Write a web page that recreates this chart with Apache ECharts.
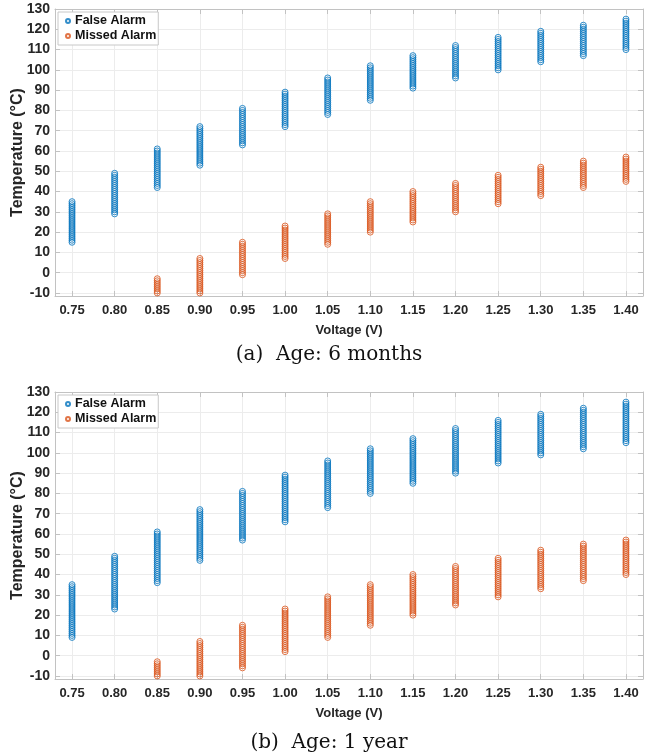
<!DOCTYPE html>
<html>
<head>
<meta charset="utf-8">
<script src="https://cdn.jsdelivr.net/npm/echarts@6/dist/echarts.min.js"></script>
<style>
  html, body { margin: 0; padding: 0; background: #fff; }
  #chart { width: 658px; height: 756px; }
</style>
</head>
<body>
<div id="chart"></div>
<script>
// voltage sweep (V) and tick labels
var voltages = [0.75, 0.80, 0.85, 0.90, 0.95, 1.00, 1.05, 1.10, 1.15, 1.20, 1.25, 1.30, 1.35, 1.40];
var xTickLabels = ['0.75', '0.80', '0.85', '0.90', '0.95', '1.00', '1.05', '1.10', '1.15', '1.20', '1.25', '1.30', '1.35', '1.40'];
var yTickLabels = ['-10', '0', '10', '20', '30', '40', '50', '60', '70', '80', '90', '100', '110', '120', '130'];

// temperature ranges (degC) flagged at each voltage, 1 degC steps
// (a) age 6 months
var falseLow6m   = [15, 29, 42, 53, 63, 72, 78, 85, 91, 96, 100, 104, 107, 110];
var falseHigh6m  = [35, 49, 61, 72, 81, 89, 96, 102, 107, 112, 116, 119, 122, 125];
var missedLow6m  = [null, null, -10, -10, -1, 7, 14, 20, 25, 30, 34, 38, 42, 45];
var missedHigh6m = [null, null, -3, 7, 15, 23, 29, 35, 40, 44, 48, 52, 55, 57];
// (b) age 1 year
var falseLow1y   = [9, 23, 36, 47, 57, 66, 73, 80, 85, 90, 95, 99, 102, 105];
var falseHigh1y  = [35, 49, 61, 72, 81, 89, 96, 102, 107, 112, 116, 119, 122, 125];
var missedLow1y  = [null, null, -10, -10, -6, 2, 9, 15, 20, 25, 29, 33, 37, 40];
var missedHigh1y = [null, null, -3, 7, 15, 23, 29, 35, 40, 44, 48, 52, 55, 57];

var blue = '#0072BD';
var orange = '#D95319';
var axisGray = '#c2c2c2';
var textColor = '#262626';

function points(lows, highs) {
    var pts = [];
    voltages.forEach(function(v, i) {
        if (lows[i] == null) return;
        for (var t = lows[i]; t <= highs[i]; t++) {
            pts.push([v, t]);
        }
    });
    return pts;
}

var xTicks = xTickLabels.map(Number);
var yTicks = yTickLabels.map(Number);

var grids = [
    { left: 55, top: 9, width: 588, height: 287, outerBoundsMode: 'none' },
    { left: 55, top: 392, width: 588, height: 287, outerBoundsMode: 'none' }
];

function xAxisFor(g, main) {
    return {
        type: 'value',
        gridIndex: g,
        position: main ? 'bottom' : 'top',
        min: 0.73,
        max: 1.42,
        name: main ? 'Voltage (V)' : '',
        nameLocation: 'middle',
        nameGap: 28,
        nameTextStyle: { fontFamily: 'Liberation Sans', fontWeight: 'bold', fontSize: 13, color: textColor },
        axisLine: { show: true, onZero: false, lineStyle: { color: axisGray } },
        axisTick: { show: true, inside: true, length: 5, customValues: xTicks, lineStyle: { color: axisGray } },
        axisLabel: {
            show: main,
            customValues: xTicks,
            margin: 8,
            fontFamily: 'Liberation Sans',
            fontWeight: 'bold',
            fontSize: 13,
            color: textColor,
            formatter: function(v) { return v.toFixed(2); }
        },
        splitLine: { show: main, lineStyle: { color: '#ececec' } }
    };
}

function yAxisFor(g, main) {
    return {
        type: 'value',
        gridIndex: g,
        position: main ? 'left' : 'right',
        min: -11.5,
        max: 130,
        name: main ? 'Temperature (°C)' : '',
        nameLocation: 'middle',
        nameGap: 29,
        nameMoveOverlap: false,
        nameTextStyle: { fontFamily: 'Liberation Sans', fontWeight: 'bold', fontSize: 16, color: textColor },
        axisLine: { show: true, onZero: false, lineStyle: { color: axisGray } },
        axisTick: { show: true, inside: true, length: 5, customValues: yTicks, lineStyle: { color: axisGray } },
        axisLabel: {
            show: main,
            customValues: yTicks,
            margin: 5,
            fontFamily: 'Liberation Sans',
            fontWeight: 'bold',
            fontSize: 14,
            color: textColor
        },
        splitLine: { show: main, lineStyle: { color: '#ececec' } }
    };
}

function scatter(name, color, g, data) {
    return {
        name: name,
        type: 'scatter',
        xAxisIndex: g,
        yAxisIndex: g,
        symbol: 'circle',
        symbolSize: 6,
        itemStyle: { color: 'rgba(255,255,255,0)', borderColor: color, borderWidth: 1 },
        emphasis: { disabled: true },
        data: data
    };
}

function legendFor(top) {
    return {
        orient: 'vertical',
        left: 58,
        top: top,
        data: ['False Alarm', 'Missed Alarm'],
        icon: 'circle',
        itemWidth: 4,
        itemHeight: 4,
        itemGap: 1,
        padding: [2, 2, 2, 7],
        backgroundColor: '#fff',
        borderColor: '#c8c8c8',
        borderWidth: 1,
        borderRadius: 0,
        textStyle: { fontFamily: 'Liberation Sans', fontWeight: 'bold', fontSize: 12.5, color: '#111', lineHeight: 14 }
    };
}

function caption(text, top) {
    return {
        text: text,
        left: 'center',
        top: top,
        padding: 0,
        textStyle: { fontFamily: 'DejaVu Serif', fontWeight: 'normal', fontSize: 20, color: '#111' }
    };
}

var chart = echarts.init(document.getElementById('chart'));
chart.setOption({
    animation: false,
    backgroundColor: '#fff',
    title: [caption('(a)  Age: 6 months', 345), caption('(b)  Age: 1 year', 733)],
    legend: [legendFor(12), legendFor(395)],
    grid: grids,
    xAxis: [xAxisFor(0, true), xAxisFor(1, true), xAxisFor(0, false), xAxisFor(1, false)],
    yAxis: [yAxisFor(0, true), yAxisFor(1, true), yAxisFor(0, false), yAxisFor(1, false)],
    series: [
        scatter('False Alarm', blue, 0, points(falseLow6m, falseHigh6m)),
        scatter('Missed Alarm', orange, 0, points(missedLow6m, missedHigh6m)),
        scatter('False Alarm', blue, 1, points(falseLow1y, falseHigh1y)),
        scatter('Missed Alarm', orange, 1, points(missedLow1y, missedHigh1y))
    ]
});
</script>
</body>
</html>
